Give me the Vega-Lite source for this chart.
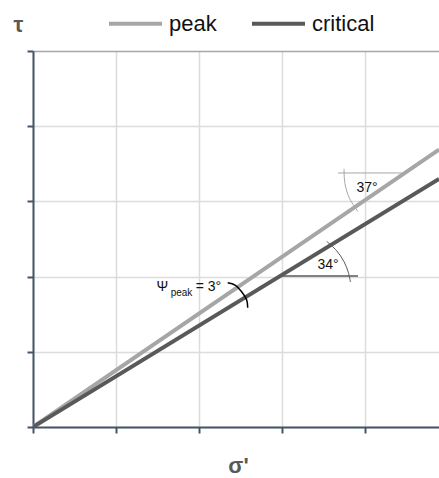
{
  "$schema": "https://vega.github.io/schema/vega-lite/v6.json",
  "width": 406,
  "height": 376,
  "autosize": {"type": "none"},
  "padding": {"left": 33, "top": 51, "right": 0, "bottom": 51},
  "background": "white",
  "config": {
    "view": {"stroke": null},
    "font": "Liberation Sans",
    "axis": {
      "labels": false,
      "ticks": true,
      "tickSize": 6,
      "tickWidth": 2,
      "tickColor": "#44546a",
      "domainColor": "#44546a",
      "domainWidth": 2,
      "gridColor": "#dcdcdc",
      "gridWidth": 1.5,
      "titleFont": "Liberation Sans",
      "titleFontSize": 22,
      "titleFontWeight": "bold",
      "titleColor": "#595959"
    }
  },
  "datasets": {
    "lines": [
      {"series": "peak", "sigma": 0, "tau": 0},
      {"series": "peak", "sigma": 4.892, "tau": 3.689},
      {"series": "critical", "sigma": 0, "tau": 0},
      {"series": "critical", "sigma": 4.892, "tau": 3.300}
    ],
    "arcs": [
      {"arc": "psi", "i": 0, "sigma": 2.346, "tau": 1.919},
      {"arc": "psi", "i": 1, "sigma": 2.434, "tau": 1.888},
      {"arc": "psi", "i": 2, "sigma": 2.514, "tau": 1.799},
      {"arc": "psi", "i": 3, "sigma": 2.575, "tau": 1.689},
      {"arc": "psi", "i": 4, "sigma": 2.587, "tau": 1.586},
      {"arc": "peak", "i": 0, "sigma": 3.748, "tau": 3.434},
      {"arc": "peak", "i": 1, "sigma": 3.758, "tau": 3.239},
      {"arc": "peak", "i": 2, "sigma": 3.814, "tau": 3.040},
      {"arc": "peak", "i": 3, "sigma": 3.916, "tau": 2.864},
      {"arc": "critical", "i": 0, "sigma": 3.539, "tau": 2.469},
      {"arc": "critical", "i": 1, "sigma": 3.659, "tau": 2.343},
      {"arc": "critical", "i": 2, "sigma": 3.746, "tau": 2.202},
      {"arc": "critical", "i": 3, "sigma": 3.799, "tau": 2.059},
      {"arc": "critical", "i": 4, "sigma": 3.825, "tau": 1.928}
    ],
    "refs": [
      {"ref": "peak", "sigma": 3.675, "sigma2": 4.446, "tau": 3.378},
      {"ref": "critical", "sigma": 2.988, "sigma2": 3.916, "tau": 2.008}
    ],
    "labels": [
      {"part": "main", "sigma": 4.024, "tau": 3.178, "text": "37°"},
      {"part": "main", "sigma": 3.554, "tau": 2.154, "text": "34°"},
      {"part": "main", "sigma": 1.560, "tau": 1.862, "text": "Ψ"},
      {"part": "main", "sigma": 2.114, "tau": 1.862, "text": "= 3°"},
      {"part": "sub", "sigma": 1.789, "tau": 1.782, "text": "peak"}
    ]
  },
  "layer": [
    {
      "data": {"name": "lines"},
      "mark": {"type": "line", "strokeWidth": 4, "clip": true},
      "encoding": {
        "x": {
          "field": "sigma", "type": "quantitative",
          "scale": {"domain": [0, 4.892], "nice": false, "zero": false},
          "axis": {"values": [0, 1, 2, 3, 4], "title": "σ'", "titleX": 205, "titleY": 45, "titleBaseline": "alphabetic"}
        },
        "y": {
          "field": "tau", "type": "quantitative",
          "scale": {"domain": [0, 5], "nice": false},
          "axis": {
            "values": [0, 1, 2, 3, 4, 5],
            "title": "τ", "titleAngle": 0, "titleX": -15, "titleY": -27,
            "titleAlign": "center", "titleBaseline": "middle",
            "gridColor": {"condition": {"test": "datum.value === 5", "value": "#a6a6a6"}, "value": "#dcdcdc"}
          }
        },
        "color": {
          "field": "series", "type": "nominal",
          "scale": {"domain": ["peak", "critical"], "range": ["#a6a6a6", "#595959"]},
          "legend": {
            "orient": "none", "legendX": 74, "legendY": -56,
            "direction": "horizontal", "title": null,
            "symbolType": "stroke", "symbolSize": 2809, "symbolStrokeWidth": 4,
            "labelFont": "Liberation Sans", "labelFontSize": 22, "labelColor": "#111111",
            "labelOffset": 5, "columnPadding": 27
          }
        }
      }
    },
    {
      "data": {"name": "refs"},
      "transform": [{"filter": "datum.ref === 'peak'"}],
      "mark": {"type": "rule", "color": "#a6a6a6", "strokeWidth": 1},
      "encoding": {
        "x": {"field": "sigma", "type": "quantitative"},
        "x2": {"field": "sigma2"},
        "y": {"field": "tau", "type": "quantitative"}
      }
    },
    {
      "data": {"name": "refs"},
      "transform": [{"filter": "datum.ref === 'critical'"}],
      "mark": {"type": "rule", "color": "#595959", "strokeWidth": 1.5},
      "encoding": {
        "x": {"field": "sigma", "type": "quantitative"},
        "x2": {"field": "sigma2"},
        "y": {"field": "tau", "type": "quantitative"}
      }
    },
    {
      "data": {"name": "arcs"},
      "transform": [{"filter": "datum.arc === 'psi'"}],
      "mark": {"type": "line", "color": "#000000", "strokeWidth": 1.5, "interpolate": "catmull-rom"},
      "encoding": {
        "x": {"field": "sigma", "type": "quantitative"},
        "y": {"field": "tau", "type": "quantitative"},
        "order": {"field": "i", "type": "quantitative"}
      }
    },
    {
      "data": {"name": "arcs"},
      "transform": [{"filter": "datum.arc === 'peak'"}],
      "mark": {"type": "line", "color": "#a6a6a6", "strokeWidth": 1, "interpolate": "catmull-rom"},
      "encoding": {
        "x": {"field": "sigma", "type": "quantitative"},
        "y": {"field": "tau", "type": "quantitative"},
        "order": {"field": "i", "type": "quantitative"}
      }
    },
    {
      "data": {"name": "arcs"},
      "transform": [{"filter": "datum.arc === 'critical'"}],
      "mark": {"type": "line", "color": "#595959", "strokeWidth": 1, "interpolate": "catmull-rom"},
      "encoding": {
        "x": {"field": "sigma", "type": "quantitative"},
        "y": {"field": "tau", "type": "quantitative"},
        "order": {"field": "i", "type": "quantitative"}
      }
    },
    {
      "data": {"name": "labels"},
      "transform": [{"filter": "datum.part === 'main'"}],
      "mark": {"type": "text", "font": "Liberation Sans", "fontSize": 14, "color": "#111111", "align": "center", "baseline": "middle"},
      "encoding": {
        "x": {"field": "sigma", "type": "quantitative"},
        "y": {"field": "tau", "type": "quantitative"},
        "text": {"field": "text"}
      }
    },
    {
      "data": {"name": "labels"},
      "transform": [{"filter": "datum.part === 'sub'"}],
      "mark": {"type": "text", "font": "Liberation Sans", "fontSize": 10, "color": "#111111", "align": "center", "baseline": "middle"},
      "encoding": {
        "x": {"field": "sigma", "type": "quantitative"},
        "y": {"field": "tau", "type": "quantitative"},
        "text": {"field": "text"}
      }
    }
  ]
}
